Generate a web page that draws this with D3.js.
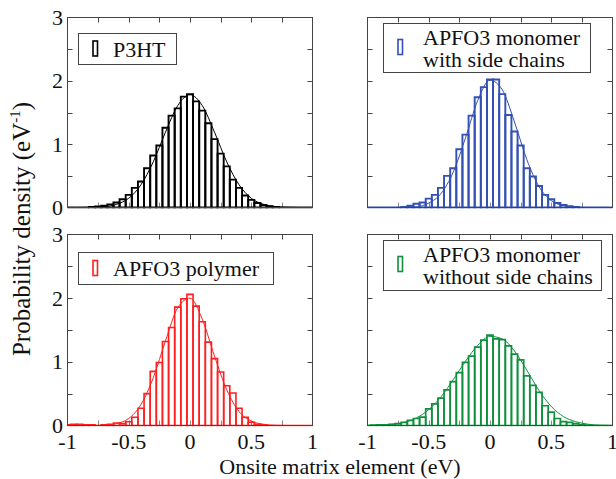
<!DOCTYPE html>
<html><head><meta charset="utf-8">
<script src="https://cdn.jsdelivr.net/npm/d3@7"></script>
<style>
html,body{margin:0;padding:0;background:#fff;}
svg{display:block;}
</style></head>
<body>
<svg id="chart" width="616" height="479"></svg>
<script>
// ---- data ----
const binCenters = [-1.00,-0.95,-0.90,-0.85,-0.80,-0.75,-0.70,-0.65,-0.60,-0.55,-0.50,-0.45,-0.40,-0.35,-0.30,-0.25,-0.20,-0.15,-0.10,-0.05,0.00,0.05,0.10,0.15,0.20,0.25,0.30,0.35,0.40,0.45,0.50,0.55,0.60,0.65,0.70,0.75,0.80,0.85,0.90,0.95,1.00];
const p3htDensity = [0,0,0,0,0.01,0.015,0.03,0.05,0.08,0.13,0.20,0.31,0.41,0.62,0.82,0.98,1.26,1.45,1.565,1.75,1.79,1.675,1.53,1.33,1.08,0.85,0.65,0.44,0.31,0.19,0.12,0.07,0.04,0.02,0.01,0,0,0,0,0,0];
const monoSideDensity = [0,0,0,0,0,0,0.01,0.03,0.06,0.08,0.14,0.20,0.31,0.50,0.62,0.92,1.15,1.45,1.74,1.90,2.02,2.02,1.79,1.46,1.20,0.98,0.62,0.49,0.34,0.20,0.13,0.07,0.04,0.02,0.01,0,0,0,0,0,0];
const polymerDensity = [0.01,0.02,0.02,0.01,0.01,0,0.01,0.02,0.04,0.03,0.06,0.13,0.27,0.50,0.85,0.99,1.32,1.54,1.86,1.99,2.06,1.875,1.63,1.31,1.05,0.84,0.625,0.51,0.27,0.13,0.05,0.02,0.01,0,0,0,0,0,0,0,0];
const monoNoSideDensity = [0,0.005,0.01,0.01,0.02,0.03,0.05,0.08,0.11,0.13,0.26,0.34,0.43,0.56,0.69,0.83,0.99,1.09,1.23,1.34,1.42,1.36,1.35,1.25,1.12,1.03,0.78,0.63,0.52,0.31,0.21,0.11,0.06,0.05,0.03,0.01,0.005,0,0,0,0];

const fitX = [-1.0,-0.9,-0.8,-0.7,-0.6,-0.5,-0.4,-0.3,-0.2,-0.1,0.0,0.1,0.2,0.3,0.4,0.5,0.6,0.7,0.8,0.9,1.0];
const p3htFit = [0,0,0.003,0.013,0.05,0.146,0.36,0.72,1.19,1.61,1.78,1.61,1.19,0.72,0.36,0.146,0.05,0.013,0.003,0,0];
const monoSideFit = [0,0,0,0.001,0.01,0.07,0.22,0.56,1.10,1.69,2.01,1.86,1.35,0.76,0.33,0.11,0.03,0.006,0,0,0];
const polymerFit = [0,0,0,0.003,0.03,0.11,0.33,0.75,1.33,1.85,2.00,1.67,1.09,0.56,0.22,0.07,0.02,0.003,0,0,0];
const monoNoSideFit = [0.003,0.007,0.02,0.05,0.12,0.25,0.45,0.72,1.01,1.26,1.40,1.36,1.17,0.87,0.55,0.30,0.14,0.06,0.02,0.006,0.002];

const legendLabels = [["P3HT"],["APFO3 monomer","with side chains"],["APFO3 polymer"],["APFO3 monomer","without side chains"]];
const seriesColors = ["#000000","#3350b2","#ff1f1f","#10903e"];
const xTickLabels = [-1,-0.5,0,0.5,1];
const xTickMarks = [-0.75,-0.5,-0.25,0,0.25,0.5,0.75];
const yTickLabels = [0,1,2,3];
const yTickMarks = [0.5,1,1.5,2,2.5];
const binWidth = 0.05;

const FONT = "'Liberation Serif','Times New Roman','DejaVu Serif',serif";

// ---- layout ----
const svg = d3.select("#chart");
const cols = [[67.5,312.5],[367.5,612.5]];
const rows = [[17.5,207.5],[234.5,425.5]];
const panels = [
  {row:0,col:0,vals:p3htDensity,fit:p3htFit,legend:legendLabels[0],color:seriesColors[0],box:[78,33,98,31],sw:1.9},
  {row:0,col:1,vals:monoSideDensity,fit:monoSideFit,legend:legendLabels[1],color:seriesColors[1],box:[383,23,207,49],sw:1.9},
  {row:1,col:0,vals:polymerDensity,fit:polymerFit,legend:legendLabels[2],color:seriesColors[2],box:[78,252,195,32],sw:1.6},
  {row:1,col:1,vals:monoNoSideDensity,fit:monoNoSideFit,legend:legendLabels[3],color:seriesColors[3],box:[383,240,218,50],sw:1.7}
];

panels.forEach((p,k)=>{
  const x = d3.scaleLinear().domain([-1,1]).range(cols[p.col]);
  const y = d3.scaleLinear().domain([0,3]).range([rows[p.row][1],rows[p.row][0]]);
  const g = svg.append("g").attr("font-family",FONT);
  const clipId = "clip"+k;
  g.append("clipPath").attr("id",clipId).append("rect")
    .attr("x",cols[p.col][0]).attr("y",rows[p.row][0]-2)
    .attr("width",cols[p.col][1]-cols[p.col][0]).attr("height",rows[p.row][1]-rows[p.row][0]+3);

  // bottom ticks (gray, under bars)
  g.selectAll(".bt").data(xTickMarks).enter().append("line")
    .attr("x1",d=>Math.round(x(d))+0.5).attr("x2",d=>Math.round(x(d))+0.5)
    .attr("y1",y(0)).attr("y2",y(0)-5).attr("stroke","#888").attr("stroke-width",1);

  const plot = g.append("g").attr("clip-path","url(#"+clipId+")");
  plot.selectAll("path.bar").data(binCenters.map((c,i)=>({c,v:p.vals[i]}))).enter().append("path")
    .attr("class","bar")
    .attr("d",d=>{
      const x0 = x(d.c-binWidth/2), x1 = x(d.c+binWidth/2), y0 = y(0), y1 = y(d.v);
      return `M${x0},${y0}V${y1}H${x1}V${y0}Z`;
    })
    .attr("fill","none").attr("stroke",p.color).attr("stroke-width",p.sw);
  const line = d3.line().x(d=>x(d[0])).y(d=>y(d[1])).curve(d3.curveMonotoneX);
  plot.append("path").datum(fitX.map((fx,i)=>[fx,p.fit[i]]))
    .attr("d",line).attr("fill","none").attr("stroke",p.color).attr("stroke-width",1);

  // frame
  g.append("rect").attr("x",cols[p.col][0]).attr("y",rows[p.row][0])
    .attr("width",cols[p.col][1]-cols[p.col][0]).attr("height",rows[p.row][1]-rows[p.row][0])
    .attr("fill","none").attr("stroke","#444").attr("stroke-width",1);
  // top ticks
  g.selectAll(".tt").data(xTickMarks).enter().append("line")
    .attr("x1",d=>Math.round(x(d))+0.5).attr("x2",d=>Math.round(x(d))+0.5)
    .attr("y1",y(3)).attr("y2",y(3)+5).attr("stroke","#444");
  // left/right ticks
  [[0,5],[1,-5]].forEach(([side,dx])=>{
    const x0 = cols[p.col][side];
    g.selectAll(".yt"+side).data(yTickMarks).enter().append("line")
      .attr("x1",x0).attr("x2",x0+dx)
      .attr("y1",d=>Math.round(y(d))+0.5).attr("y2",d=>Math.round(y(d))+0.5).attr("stroke","#444");
  });

  if(p.col===0){
    g.selectAll(".yl").data(yTickLabels).enter().append("text")
      .attr("x",cols[0][0]-4.5).attr("y",d=>y(d)+7.5)
      .attr("text-anchor","end").attr("font-size",22).attr("fill","#111").text(d=>d);
  }
  if(p.row===1){
    g.selectAll(".xl").data(xTickLabels).enter().append("text")
      .attr("x",d=>x(d)).attr("y",449)
      .attr("text-anchor","middle").attr("font-size",22).attr("fill","#111").text(d=>d);
  }

  // legend
  const [bx,by,bw,bh] = p.box;
  g.append("rect").attr("x",bx+0.5).attr("y",by+0.5).attr("width",bw).attr("height",bh)
    .attr("fill","#fff").attr("stroke","#444").attr("stroke-width",1);
  const twoLine = p.legend.length>1;
  const symCy = twoLine ? by+24 : by+bh/2;
  g.append("rect").attr("x",bx+15).attr("y",symCy-7.5).attr("width",4.5).attr("height",15)
    .attr("fill","none").attr("stroke",p.color).attr("stroke-width",1.6);
  p.legend.forEach((t,j)=>{
    g.append("text").attr("x",bx+(twoLine?40:35)).attr("y",twoLine? by+22+j*22 : by+24)
      .attr("font-size",22).attr("fill","#111").text(t);
  });
});

// axis titles
svg.append("text").attr("x",340).attr("y",474).attr("text-anchor","middle")
  .attr("font-family",FONT).attr("fill","#111")
  .attr("font-size",22).text("Onsite matrix element (eV)");
const yl = svg.append("text").attr("transform","translate(30,229) rotate(-90)")
  .attr("font-family",FONT).attr("fill","#111")
  .attr("text-anchor","middle").attr("font-size",25);
yl.append("tspan").text("Probability density (eV");
yl.append("tspan").attr("font-size",15).attr("dy",-10).text("-1");
yl.append("tspan").attr("dy",10).text(")");
</script>
</body></html>
